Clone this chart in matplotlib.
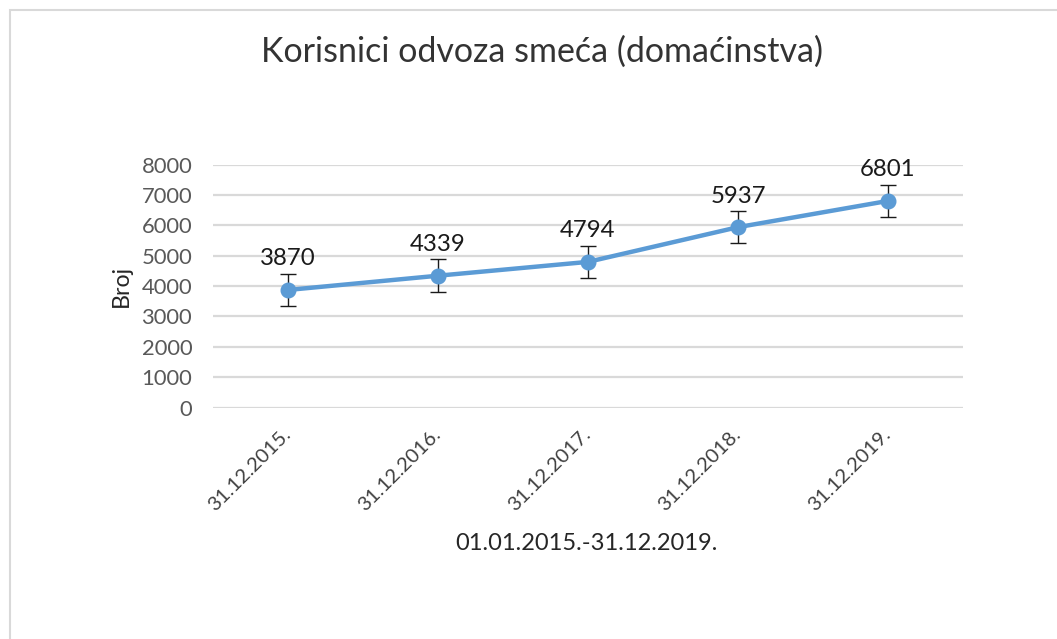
import matplotlib
matplotlib.use("Agg")
import matplotlib.pyplot as plt
from matplotlib.patches import Rectangle
from matplotlib.transforms import ScaledTranslation

categories = ["31.12.2015.", "31.12.2016.", "31.12.2017.", "31.12.2018.", "31.12.2019."]
values = [3870, 4339, 4794, 5937, 6801]
error = 537  # Excel "standard error" bar (constant)
yticks = [0, 1000, 2000, 3000, 4000, 5000, 6000, 7000, 8000]

title = "Korisnici odvoza smeća (domaćinstva)"
xlabel = "01.01.2015.-31.12.2019."
ylabel = "Broj"

plt.rcParams['font.family'] = ['Lato', 'DejaVu Sans']

W, H = 1057, 639
fig = plt.figure(figsize=(W / 100, H / 100), dpi=100)
fig.patch.set_facecolor("white")

# outer chart border (left + top visible)
fig.add_artist(Rectangle((10 / W, -0.1), 1.2, (H - 10) / H + 0.1, transform=fig.transFigure,
                         fill=False, edgecolor="#D9D9D9", linewidth=1.5))

ax = fig.add_axes([213 / W, 1 - 407.5 / H, 750 / W, (407.5 - 164.5) / H])
x = list(range(len(categories)))
ax.set_xlim(-0.5, len(categories) - 0.5)
ax.set_ylim(0, 8000)
ax.set_yticks(yticks)
ax.set_yticklabels([str(t) for t in yticks], fontsize=15.8, color="#595959")
ax.set_xticks(x)
ax.set_xticklabels(categories, rotation=45, ha="right", rotation_mode="anchor",
                   fontsize=14.6, color="#404040")
ax.tick_params(axis="both", length=0)
ax.tick_params(axis="y", pad=15)
ax.tick_params(axis="x", pad=13)
for lab in ax.get_xticklabels():
    lab.set_transform(lab.get_transform() + ScaledTranslation(-6 / 100, 0, fig.dpi_scale_trans))
for s in ax.spines.values():
    s.set_visible(False)
ax.grid(axis="y", color="#D9D9D9", linewidth=1.6)
ax.set_axisbelow(True)

ax.errorbar(x, values, yerr=error, fmt="none", ecolor="#1a1a1a", elinewidth=1.0,
            capsize=6, capthick=1.0, zorder=2)
ax.plot(x, values, color="#5B9BD5", linewidth=3.2, marker="o", markersize=10.5,
        markerfacecolor="#5B9BD5", markeredgecolor="#5B9BD5", zorder=3)

for xi, v in zip(x, values):
    ax.annotate(str(v), (xi, v + error), xytext=(0, 3), textcoords="offset points",
                ha="center", va="bottom", fontsize=17.3, color="#1a1a1a")

fig.text(121 / W, 1 - 286 / H, ylabel, rotation=90, ha="center", va="center",
         fontsize=16.7, color="#262626")
fig.text(586 / W, 1 - 543 / H, xlabel, ha="center", va="center", fontsize=17, color="#262626")
fig.text(542 / W, 1 - 52 / H, title, ha="center", va="center", fontsize=24.5, color="#333333")

fig.savefig("out.png", dpi=100)
